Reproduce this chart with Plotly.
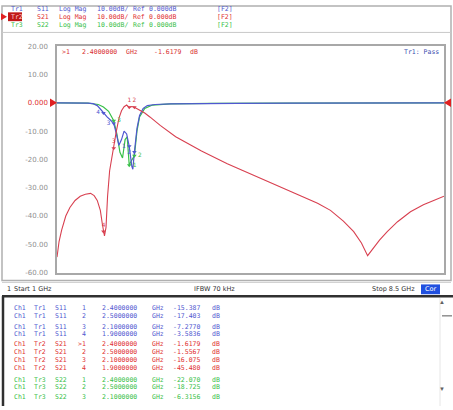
import plotly.graph_objects as go

# ---------------- data ----------------
freq_s11 = [1.0, 1.3, 1.6, 1.7, 1.78, 1.84, 1.9, 1.97, 2.03, 2.1, 2.15, 2.2, 2.25, 2.3, 2.35,
            2.4, 2.45, 2.47, 2.5, 2.55, 2.6, 2.67, 2.75, 2.9, 3.2, 3.8, 4.5, 5.5, 6.5, 7.5, 8.5]
s11_db = [0.0, 0.0, -0.1, -0.3, -1.0, -2.2, -3.6, -5.0, -6.0, -7.3, -11.0, -15.0, -13.0, -10.0, -11.0,
          -15.4, -22.5, -23.5, -17.4, -9.0, -4.5, -2.0, -1.0, -0.6, -0.4, -0.2, -0.2, -0.1, -0.1, 0.0, 0.0]

freq_s22 = [1.0, 1.6, 1.8, 1.9, 2.0, 2.1, 2.16, 2.22, 2.27, 2.32, 2.36, 2.4, 2.44, 2.5, 2.55,
            2.6, 2.7, 2.85, 3.2, 4.0, 5.5, 7.0, 8.5]
s22_db = [0.0, -0.1, -0.6, -1.5, -3.0, -6.3, -11.0, -17.5, -19.5, -13.0, -12.0, -22.1, -20.5, -18.7, -10.0,
          -5.0, -2.0, -0.8, -0.4, -0.2, -0.1, 0.0, 0.0]

freq_s21 = [1.0, 1.04, 1.09, 1.17, 1.25, 1.35, 1.45, 1.55, 1.65, 1.72, 1.78, 1.84, 1.88, 1.92, 1.95,
            1.98, 2.02, 2.06, 2.1, 2.15, 2.2, 2.25, 2.3, 2.35, 2.4, 2.45, 2.5, 2.6, 2.7, 2.8,
            3.0, 3.3, 3.8, 4.3, 4.8, 5.2, 5.7, 6.05, 6.3, 6.55, 6.75, 6.9, 7.02, 7.12, 7.25,
            7.4, 7.6, 7.85, 8.1, 8.3, 8.5]
s21_db = [-54.5, -49.0, -45.0, -40.0, -37.0, -34.5, -33.0, -32.3, -32.0, -32.8, -34.5, -38.0, -43.0, -47.0, -44.0,
          -33.0, -24.0, -19.5, -16.1, -10.0, -5.5, -2.8, -1.4, -0.8, -1.6, -1.3, -1.6, -2.6, -3.6, -5.0,
          -8.0, -12.0, -17.0, -21.5, -25.5, -28.5, -32.5, -35.5, -38.0, -41.8, -45.5, -49.5, -54.0, -51.5, -48.5,
          -45.5, -42.0, -38.5, -36.0, -34.5, -33.0]

marker_ids = ["1", "2", "3", "4"]
marker_freq = [2.4, 2.5, 2.1, 1.9]
marker_s11 = [-15.387, -17.403, -7.2770, -3.5836]
marker_s21 = [-1.6179, -1.5567, -16.075, -45.480]
marker_s22 = [-22.070, -18.725, -6.3156]

y_ticks = [20, 10, 0, -10, -20, -30, -40, -50, -60]
y_ticktext = ["20.00", "10.00", "<span style='color:#e03030'>0.000</span>", "-10.00", "-20.00",
              "-30.00", "-40.00", "-50.00", "-60.00"]

header_rows = [
    ["Tr1", "S11", "Log Mag", "10.00dB/", "Ref", "0.000dB", "[F2]"],
    ["Tr2", "S21", "Log Mag", "10.00dB/", "Ref", "0.000dB", "[F2]"],
    ["Tr3", "S22", "Log Mag", "10.00dB/", "Ref", "0.000dB", "[F2]"],
]
table_rows = [
    ["Ch1", "Tr1", "S11", "1", "2.4000000", "GHz", "-15.387", "dB"],
    ["Ch1", "Tr1", "S11", "2", "2.5000000", "GHz", "-17.403", "dB"],
    ["Ch1", "Tr1", "S11", "3", "2.1000000", "GHz", "-7.2770", "dB"],
    ["Ch1", "Tr1", "S11", "4", "1.9000000", "GHz", "-3.5836", "dB"],
    ["Ch1", "Tr2", "S21", ">1", "2.4000000", "GHz", "-1.6179", "dB"],
    ["Ch1", "Tr2", "S21", "2", "2.5000000", "GHz", "-1.5567", "dB"],
    ["Ch1", "Tr2", "S21", "3", "2.1000000", "GHz", "-16.075", "dB"],
    ["Ch1", "Tr2", "S21", "4", "1.9000000", "GHz", "-45.480", "dB"],
    ["Ch1", "Tr3", "S22", "1", "2.4000000", "GHz", "-22.070", "dB"],
    ["Ch1", "Tr3", "S22", "2", "2.5000000", "GHz", "-18.725", "dB"],
    ["Ch1", "Tr3", "S22", "3", "2.1000000", "GHz", "-6.3156", "dB"],
]

# ---------------- style ----------------
W, H = 453, 410
C_BLUE = "#5058d0"
C_RED = "#d84050"
C_GREEN = "#38c048"
C_GRID = "#a8a8a8"
MONO = "DejaVu Sans Mono"


def X(px):
    return px / W


def Y(py):
    return 1 - py / H


fig = go.Figure()

fig.add_trace(go.Scatter(x=freq_s22, y=s22_db, mode="lines", line=dict(color=C_GREEN, width=1.2),
                         hoverinfo="skip"))
fig.add_trace(go.Scatter(x=freq_s11, y=s11_db, mode="lines", line=dict(color=C_BLUE, width=1.2),
                         hoverinfo="skip"))
fig.add_trace(go.Scatter(x=freq_s21, y=s21_db, mode="lines", line=dict(color=C_RED, width=1.1),
                         hoverinfo="skip"))

# markers on traces
for vals, col, tpos in [(marker_s11, C_BLUE, "middle left"), (marker_s22, C_GREEN, "middle right"),
                        (marker_s21, C_RED, "top center")]:
    n = len(vals)
    fig.add_trace(go.Scatter(x=marker_freq[:n], y=vals, mode="markers+text", text=marker_ids[:n],
                             textposition=tpos, cliponaxis=False,
                             textfont=dict(size=6, color=col, family=MONO),
                             marker=dict(symbol="triangle-down", size=4, color=col),
                             hoverinfo="skip"))

# marker position indicators under the grid (active trace)
fig.add_trace(go.Scatter(x=marker_freq[1:], y=[-62.2] * 3, mode="markers", cliponaxis=False,
                         marker=dict(symbol="triangle-up-open", size=5, color=C_RED, line=dict(width=1)),
                         hoverinfo="skip"))
fig.add_trace(go.Scatter(x=marker_freq[:1], y=[-62.2], mode="markers", cliponaxis=False,
                         marker=dict(symbol="triangle-up", size=8, color="#b01020"),
                         hoverinfo="skip"))

shapes = []
annotations = []

# window / panel frames
shapes.append(dict(type="rect", xref="paper", yref="paper", x0=X(2), x1=X(451), y0=Y(282), y1=Y(2),
                   line=dict(color="#b0b0b0", width=1.5)))
shapes.append(dict(type="line", xref="paper", yref="paper", x0=X(2), x1=X(451), y0=Y(29), y1=Y(29),
                   line=dict(color="#c8c8c8", width=1)))
shapes.append(dict(type="line", xref="paper", yref="paper", x0=X(2), x1=X(451), y0=Y(284), y1=Y(284),
                   line=dict(color="#d0d0d0", width=1)))
# table frame
shapes.append(dict(type="line", xref="paper", yref="paper", x0=X(2), x1=X(453), y0=Y(298), y1=Y(298),
                   line=dict(color="#303030", width=2.5)))
shapes.append(dict(type="line", xref="paper", yref="paper", x0=X(3), x1=X(3), y0=Y(298), y1=Y(410),
                   line=dict(color="#303030", width=2.5)))
shapes.append(dict(type="line", xref="paper", yref="paper", x0=X(440), x1=X(440), y0=Y(300), y1=Y(410),
                   line=dict(color="#e6e6e6", width=1)))

# reference level triangles at 0 dB
shapes.append(dict(type="path", xref="paper", yref="y",
                   path=f"M {X(50)},1.5 L {X(57)},0 L {X(50)},-1.5 Z",
                   fillcolor="#e02020", line=dict(width=0)))
shapes.append(dict(type="path", xref="paper", yref="y",
                   path=f"M {X(451)},1.5 L {X(444)},0 L {X(451)},-1.5 Z",
                   fillcolor="#e02020", line=dict(width=0)))

# header lines
hdr_cols = [9, 35, 57, 95, 131, 147, 215]
hdr_y = [5, 13, 21]
hdr_colors = [C_BLUE, "#e03030", C_GREEN]
for r, row in enumerate(header_rows):
    for c, txt in enumerate(row):
        annotations.append(dict(x=X(hdr_cols[c]), y=Y(hdr_y[r]), xref="paper", yref="paper", text=txt,
                                showarrow=False, xanchor="left", yanchor="middle",
                                font=dict(family=MONO, size=6.5, color=hdr_colors[r])))
shapes.append(dict(type="rect", xref="paper", yref="paper", x0=X(8), x1=X(22), y0=Y(17.5), y1=Y(8.5),
                   fillcolor="#c01818", line=dict(width=0), layer="below"))
annotations[7]["font"]["color"] = "#ffd0d0"
shapes.append(dict(type="path", xref="paper", yref="paper",
                   path=f"M {X(1)},{Y(9.5)} L {X(7)},{Y(13)} L {X(1)},{Y(16.5)} Z",
                   fillcolor="#e02020", line=dict(width=0)))

# readout in the grid
for txt, xp in [(">1", 60), ("2.4000000", 80), ("GHz", 124), ("-1.6179", 152), ("dB", 188)]:
    annotations.append(dict(x=X(xp), y=Y(49), xref="paper", yref="paper", text=txt, showarrow=False,
                            xanchor="left", yanchor="middle", font=dict(family=MONO, size=6.5, color="#d83030")))
annotations.append(dict(x=X(441), y=Y(49), xref="paper", yref="paper", text="Tr1: Pass", showarrow=False,
                        xanchor="right", yanchor="middle", font=dict(family=MONO, size=6.5, color="#4050b0")))

# status bar
for txt, xp, anc in [("1", 5, "left"), ("Start 1 GHz", 12, "left"), ("IFBW 70 kHz", 192, "left"),
                     ("Stop 8.5 GHz", 417, "right")]:
    annotations.append(dict(x=X(xp), y=Y(291), xref="paper", yref="paper", text=txt, showarrow=False,
                            xanchor=anc, yanchor="middle", font=dict(family="DejaVu Sans", size=6.5, color="#303030")))
shapes.append(dict(type="rect", xref="paper", yref="paper", x0=X(421), x1=X(440), y0=Y(296), y1=Y(286),
                   fillcolor="#2050e0", line=dict(width=0)))
annotations.append(dict(x=X(430.5), y=Y(291), xref="paper", yref="paper", text="Cor", showarrow=False,
                        xanchor="center", yanchor="middle", font=dict(family="DejaVu Sans", size=6.5, color="white")))

# marker table
tbl_cols = [12, 32, 53, 88, 100, 150, 202, 210]
tbl_anchor = ["left", "left", "left", "right", "left", "left", "right", "left"]
tbl_y = [310, 318, 329, 337, 347, 355, 363, 371, 383, 391, 401]
tbl_colors = [C_BLUE] * 4 + ["#e03030"] * 4 + [C_GREEN] * 3
for r, row in enumerate(table_rows):
    for c, txt in enumerate(row):
        annotations.append(dict(x=X(tbl_cols[c]), y=Y(tbl_y[r]), xref="paper", yref="paper", text=txt,
                                showarrow=False, xanchor=tbl_anchor[c], yanchor="middle",
                                font=dict(family=MONO, size=6.5, color=tbl_colors[r])))
annotations.append(dict(x=X(447), y=Y(310), xref="paper", yref="paper", text="▲", showarrow=False,
                        font=dict(size=6, color="#606060")))
annotations.append(dict(x=X(447), y=Y(399), xref="paper", yref="paper", text="▼", showarrow=False,
                        font=dict(size=6, color="#606060")))
shapes.append(dict(type="line", xref="paper", yref="paper", x0=X(442), x1=X(452), y0=Y(318), y1=Y(318),
                   line=dict(color="#909090", width=1.5)))

fig.update_layout(
    width=W, height=H, margin=dict(l=0, r=0, t=0, b=0),
    paper_bgcolor="white", plot_bgcolor="white", showlegend=False,
    xaxis=dict(domain=[X(57), X(444)], range=[1, 8.5], showticklabels=False, showgrid=False,
               zeroline=False, showline=True, mirror=True, linecolor=C_GRID, linewidth=1.5, ticks=""),
    yaxis=dict(domain=[Y(274), Y(43)], range=[-60, 20], tickvals=y_ticks, ticktext=y_ticktext,
               tickfont=dict(family="DejaVu Sans", size=7, color="#909090"), showgrid=False,
               zeroline=False, showline=True, mirror=True, linecolor=C_GRID, linewidth=1.5, ticks="",
               ticklabelstandoff=6),
    shapes=shapes, annotations=annotations,
)

fig.write_html("out.html", post_script="document.body.style.margin='0px';",
               config={"displayModeBar": False})
